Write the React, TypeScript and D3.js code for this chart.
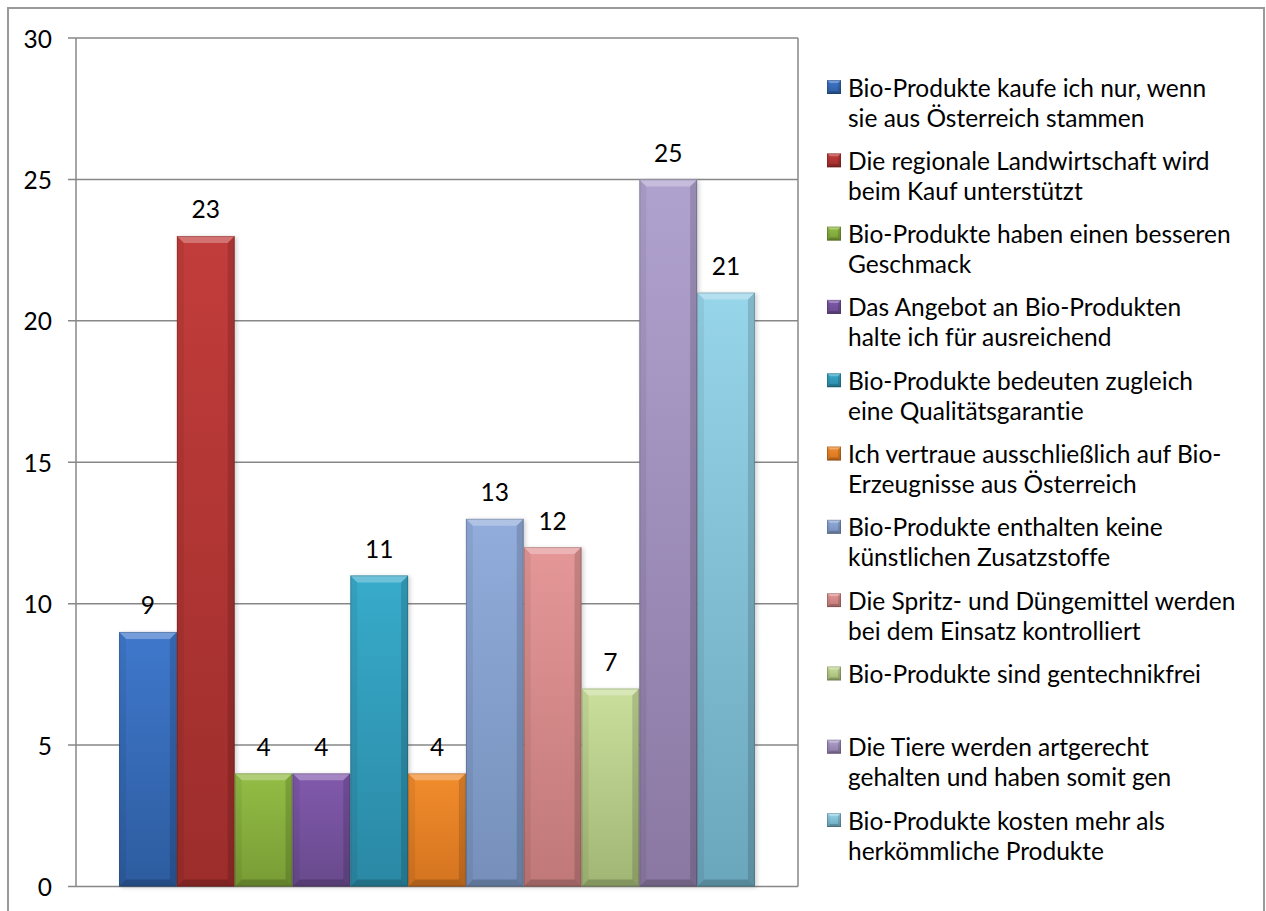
import React from 'react';
import * as d3 from 'd3';

// legend entries, one array of lines per series
const seriesNames: string[][] = [
  ['Bio-Produkte kaufe ich nur, wenn', 'sie aus Österreich stammen'],
  ['Die regionale Landwirtschaft wird', 'beim Kauf unterstützt'],
  ['Bio-Produkte haben einen besseren', 'Geschmack'],
  ['Das Angebot an Bio-Produkten', 'halte ich für ausreichend'],
  ['Bio-Produkte bedeuten zugleich', 'eine Qualitätsgarantie'],
  ['Ich vertraue ausschließlich auf Bio-', 'Erzeugnisse aus Österreich'],
  ['Bio-Produkte enthalten keine', 'künstlichen Zusatzstoffe'],
  ['Die Spritz- und Düngemittel werden', 'bei dem Einsatz kontrolliert'],
  ['Bio-Produkte sind gentechnikfrei'],
  ['Die Tiere werden artgerecht', 'gehalten und haben somit gen'],
  ['Bio-Produkte kosten mehr als', 'herkömmliche Produkte'],
];
const values = [9, 23, 4, 4, 11, 4, 13, 12, 7, 25, 21];
const topColors = ['#3f78cc', '#c23d3b', '#93bd45', '#8159ad', '#38abcb', '#f28c2c', '#92acdb', '#e59797', '#cadf9c', '#b0a2cf', '#97d5ea'];
const bottomColors = ['#2d5c9f', '#9c2d2b', '#789c35', '#684a8c', '#2a88a4', '#d47420', '#7690bb', '#c07878', '#a1b674', '#8a78a2', '#6aa6bc'];
const yTicks = [0, 5, 10, 15, 20, 25, 30];

const W = 1266;
const H = 911;
const left = 76, right = 798, top = 38, bottom = 886.5;
const font = 'Lato, "Noto Sans", sans-serif';
const fs = 24.5;

function Bevel({ x, y, w, h, b, id }: { x: number; y: number; w: number; h: number; b: number; id: string }) {
  const bb = Math.min(b, h / 2);
  const pts = (p: number[][]) => p.map((d) => d.join(',')).join(' ');
  return (
    <g>
      <rect x={x} y={y} width={w} height={h} fill={`url(#${id})`} />
      <polygon points={pts([[x, y], [x + w, y], [x + w - bb, y + bb], [x + bb, y + bb]])} fill="#fff" fillOpacity={0.28} />
      <polygon points={pts([[x, y], [x + bb, y + bb], [x + bb, y + h - bb], [x, y + h]])} fill="#000" fillOpacity={0.06} />
      <polygon points={pts([[x + w, y], [x + w - bb, y + bb], [x + w - bb, y + h - bb], [x + w, y + h]])} fill="#000" fillOpacity={0.14} />
      <polygon points={pts([[x, y + h], [x + bb, y + h - bb], [x + w - bb, y + h - bb], [x + w, y + h]])} fill="#000" fillOpacity={0.18} />
      <rect x={x + 0.5} y={y + 0.5} width={w - 1} height={h - 1} fill="none" stroke="#000" strokeOpacity={0.18} />
    </g>
  );
}

export default function App() {
  const y = d3.scaleLinear().domain([0, 30]).range([bottom, top]);
  const x = d3
    .scaleBand<number>()
    .domain(d3.range(values.length))
    .range([left, right])
    .paddingInner(0)
    .paddingOuter(0.745);
  const bw = x.bandwidth();

  const legendX = 827;
  const legendY0 = 87;
  const legendStep = 73.3;
  const lineH = 30;

  const textStyle = { fontVariantLigatures: 'none' as const };

  return (
    <svg width={W} height={H} style={{ position: 'absolute', left: 0, top: 0, background: '#fff' }}>
      <defs>
        {values.map((_, i) => (
          <linearGradient key={i} id={`g${i}`} x1="0" y1="0" x2="0" y2="1">
            <stop offset="0" stopColor={topColors[i]} />
            <stop offset="1" stopColor={bottomColors[i]} />
          </linearGradient>
        ))}
        <filter id="shadow" x="-20%" y="-5%" width="140%" height="110%">
          <feGaussianBlur stdDeviation="2" />
        </filter>
      </defs>

      <rect x={8} y={8} width={1256} height={920} fill="none" stroke="#999" strokeWidth={2} />

      {/* gridlines and y axis labels */}
      {yTicks.map((t) => (
        <g key={t}>
          <line x1={68} x2={right} y1={y(t)} y2={y(t)} stroke="#878787" strokeWidth={1.5} />
          <text x={52} y={y(t)} textAnchor="end" dominantBaseline="central" fontFamily={font} fontSize={fs} fill="#000" style={textStyle}>
            {t}
          </text>
        </g>
      ))}
      <line x1={left} x2={left} y1={top} y2={bottom} stroke="#878787" strokeWidth={1.5} />
      <line x1={right} x2={right} y1={top} y2={bottom} stroke="#878787" strokeWidth={1.5} />

      {/* bar shadows */}
      {values.map((v, i) => (
        <rect key={i} x={x(i)! + 2} y={y(v) + 1} width={bw} height={bottom - y(v)} fill="#000" fillOpacity={0.18} filter="url(#shadow)" />
      ))}
      {/* bars and value labels */}
      {values.map((v, i) => (
        <g key={i}>
          <Bevel x={x(i)!} y={y(v)} w={bw} h={bottom - y(v)} b={7} id={`g${i}`} />
          <text x={x(i)! + bw / 2} y={y(v) - 27} textAnchor="middle" dominantBaseline="central" fontFamily={font} fontSize={fs} fill="#000" style={textStyle}>
            {v}
          </text>
        </g>
      ))}

      {/* legend */}
      {seriesNames.map((lines, i) => {
        const cy = legendY0 + i * legendStep;
        return (
          <g key={i}>
            <Bevel x={legendX} y={cy - 7} w={14} h={14} b={3} id={`g${i}`} />
            {lines.map((l, j) => (
              <text key={j} x={legendX + 21} y={cy + j * lineH} dominantBaseline="central" fontFamily={font} fontSize={fs} fill="#000" style={textStyle}>
                {l}
              </text>
            ))}
          </g>
        );
      })}
    </svg>
  );
}
